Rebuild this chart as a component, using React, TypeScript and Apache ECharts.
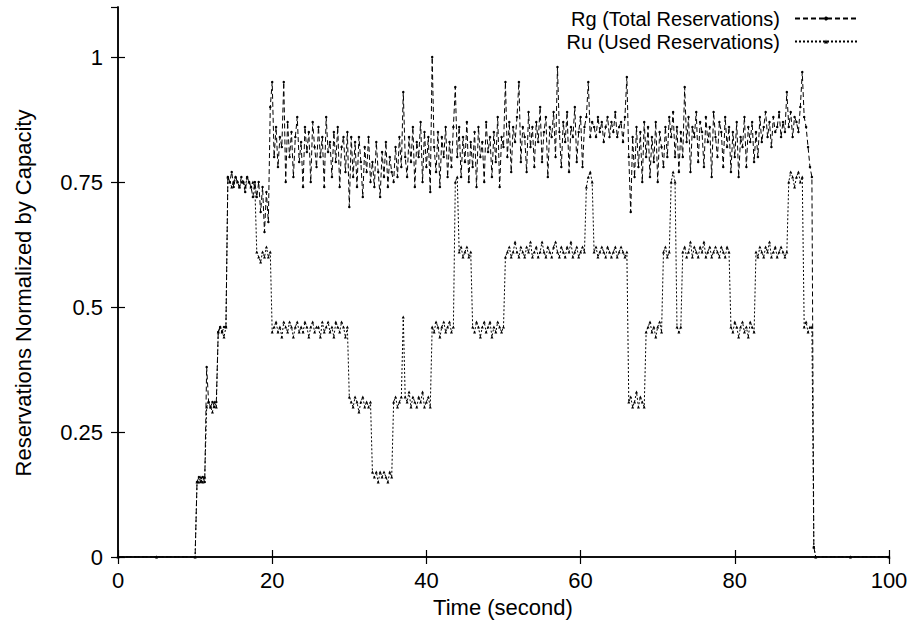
import React, { useEffect, useRef } from "react";
import * as echarts from "echarts";

// Sampling grid of the measurement (seconds)
const TIME_START = 10.0;
const TIME_STEP = 0.25;

// Idle periods before and after the run: [time, value]
const idleBefore: number[][] = [[0, 0], [5, 0]];
const idleAfter: number[][] = [[95, 0], [100, 0]];

// Rg (Total Reservations), normalized by capacity, from t = 10.0 every 0.25 s
const rgValues: number[] = [
  0.00,
  0.15, 0.16, 0.15, 0.16, 0.15,
  0.38, 0.31, 0.30, 0.31, 0.30, 0.31,
  0.45, 0.46, 0.45, 0.46, 0.46,
  0.76, 0.75, 0.77, 0.74, 0.76, 0.75, 0.74, 0.76, 0.75, 0.73, 0.76, 0.75, 0.74, 0.72, 0.75,
  0.72, 0.75, 0.69, 0.74, 0.65, 0.73, 0.67, 0.90,
  0.95, 0.80, 0.86, 0.78, 0.84, 0.82, 0.95, 0.75, 0.87, 0.80,
  0.85, 0.76, 0.84, 0.88, 0.79, 0.83, 0.74, 0.86, 0.81, 0.85,
  0.75, 0.87, 0.82, 0.78, 0.86, 0.80, 0.84, 0.74, 0.88, 0.81,
  0.83, 0.76, 0.85, 0.79, 0.86, 0.74, 0.82, 0.84, 0.77, 0.85,
  0.70, 0.84, 0.76, 0.83, 0.74, 0.84, 0.79, 0.72, 0.82, 0.77, 0.84, 0.75,
  0.79, 0.74, 0.83, 0.77, 0.72, 0.81, 0.76, 0.83, 0.74, 0.80, 0.77,
  0.75, 0.82, 0.76, 0.84, 0.78,
  0.93,
  0.80,
  0.76, 0.84, 0.79, 0.86, 0.74, 0.83, 0.80, 0.87, 0.75, 0.85, 0.78, 0.84, 0.73,
  1.00, 0.82, 0.77, 0.85, 0.74, 0.84, 0.80, 0.86, 0.76, 0.83, 0.78, 0.86,
  0.94, 0.80,
  0.86, 0.76, 0.84, 0.79, 0.87, 0.75, 0.83,
  0.78, 0.85, 0.74, 0.86, 0.80, 0.83, 0.75, 0.87, 0.81, 0.84, 0.76, 0.85, 0.79, 0.88, 0.74, 0.84, 0.82,
  0.95, 0.80, 0.87, 0.77, 0.86, 0.83, 0.88, 0.95, 0.79, 0.86,
  0.84, 0.77, 0.89, 0.82, 0.86, 0.78, 0.87, 0.83, 0.90, 0.79,
  0.85, 0.88, 0.76, 0.86, 0.84, 0.89, 0.80, 0.98, 0.85, 0.78,
  0.87, 0.83, 0.89, 0.77, 0.86, 0.84, 0.90, 0.79, 0.85, 0.88,
  0.78, 0.86,
  0.88, 0.95, 0.84, 0.87,
  0.86, 0.84, 0.88, 0.85, 0.87, 0.83, 0.86, 0.88, 0.84, 0.87, 0.85, 0.89, 0.84, 0.86, 0.87, 0.83, 0.88, 0.96,
  0.80, 0.69, 0.84, 0.76, 0.86, 0.78, 0.85, 0.75, 0.87,
  0.80, 0.86, 0.76, 0.84, 0.79, 0.87, 0.75, 0.85, 0.82,
  0.78, 0.86, 0.80, 0.88,
  0.84, 0.89, 0.80,
  0.86, 0.77, 0.85,
  0.80, 0.94, 0.83, 0.88, 0.77, 0.86, 0.84, 0.89, 0.79, 0.87,
  0.85, 0.78, 0.88, 0.83, 0.86, 0.76, 0.89, 0.84, 0.80, 0.87,
  0.85, 0.78, 0.88, 0.82, 0.86,
  0.77, 0.85, 0.80, 0.87, 0.76, 0.84, 0.82, 0.88, 0.78, 0.86, 0.83, 0.87, 0.79,
  0.85, 0.80, 0.88, 0.83, 0.86, 0.89, 0.84, 0.87, 0.82, 0.88, 0.85, 0.86, 0.89, 0.84, 0.87, 0.85, 0.93,
  0.86, 0.89, 0.84, 0.88, 0.87, 0.85, 0.90, 0.97,
  0.88, 0.86, 0.82, 0.78, 0.76,
  0.02,
  0.00,
];

// Ru (Used Reservations), normalized by capacity, same sampling grid
const ruValues: number[] = [
  0.00,
  0.15, 0.15, 0.16, 0.15, 0.16,
  0.30, 0.31, 0.30, 0.29, 0.31, 0.30,
  0.45, 0.46, 0.45, 0.44, 0.46,
  0.76, 0.75, 0.74, 0.75, 0.76, 0.75, 0.74, 0.75, 0.75, 0.74, 0.76, 0.75, 0.74, 0.75, 0.74,
  0.61, 0.60, 0.59, 0.61, 0.60, 0.62, 0.60, 0.61,
  0.45, 0.46, 0.47, 0.45, 0.46, 0.44, 0.47, 0.46, 0.45, 0.47,
  0.46, 0.44, 0.46, 0.47, 0.45, 0.46, 0.45, 0.47, 0.46, 0.44,
  0.46, 0.47, 0.45, 0.46, 0.46, 0.44, 0.47, 0.45, 0.46, 0.47,
  0.45, 0.46, 0.44, 0.47, 0.46, 0.45, 0.47, 0.46, 0.44, 0.46,
  0.32, 0.31, 0.30, 0.32, 0.31, 0.29, 0.31, 0.32, 0.30, 0.31, 0.30, 0.31,
  0.17, 0.16, 0.17, 0.15, 0.17, 0.16, 0.17, 0.16, 0.15, 0.17, 0.16,
  0.31, 0.32, 0.30, 0.31, 0.32,
  0.48,
  0.32,
  0.31, 0.33, 0.30, 0.32, 0.31, 0.30, 0.32, 0.31, 0.33, 0.30, 0.31, 0.32, 0.30,
  0.46, 0.45, 0.47, 0.46, 0.44, 0.46, 0.47, 0.45, 0.46, 0.47, 0.45, 0.46,
  0.75, 0.76,
  0.61, 0.62, 0.60, 0.61, 0.62, 0.60, 0.61,
  0.46, 0.45, 0.47, 0.46, 0.44, 0.46, 0.47, 0.45, 0.46, 0.47, 0.44, 0.46, 0.45, 0.47, 0.46, 0.45, 0.46,
  0.60, 0.61, 0.62, 0.60, 0.61, 0.63, 0.61, 0.60, 0.62, 0.61,
  0.60, 0.62, 0.61, 0.63, 0.60, 0.61, 0.62, 0.60, 0.61, 0.63,
  0.61, 0.60, 0.62, 0.61, 0.60, 0.62, 0.63, 0.61, 0.60, 0.62,
  0.61, 0.60, 0.62, 0.61, 0.63, 0.60, 0.61, 0.62, 0.60, 0.61,
  0.62, 0.61,
  0.74, 0.76, 0.77, 0.75,
  0.61, 0.62, 0.60, 0.61, 0.62, 0.61, 0.60, 0.62, 0.61, 0.60, 0.61, 0.62, 0.60, 0.61, 0.62, 0.61, 0.60, 0.61,
  0.31, 0.32, 0.30, 0.31, 0.33, 0.30, 0.32, 0.31, 0.30,
  0.45, 0.46, 0.47, 0.45, 0.46, 0.44, 0.46, 0.47, 0.45,
  0.61, 0.62, 0.60, 0.61,
  0.75, 0.77, 0.75,
  0.46, 0.45, 0.46,
  0.61, 0.62, 0.60, 0.61, 0.63, 0.60, 0.62, 0.61, 0.60, 0.62,
  0.61, 0.63, 0.60, 0.61, 0.62, 0.60, 0.61, 0.62, 0.61, 0.60,
  0.62, 0.61, 0.60, 0.62, 0.61,
  0.46, 0.45, 0.47, 0.46, 0.44, 0.46, 0.47, 0.45, 0.46, 0.44, 0.47, 0.46, 0.45,
  0.61, 0.60, 0.62, 0.61, 0.60, 0.62, 0.61, 0.63, 0.60, 0.61, 0.62, 0.60, 0.61, 0.62, 0.61, 0.60, 0.61,
  0.75, 0.77, 0.76, 0.74, 0.76, 0.77, 0.75, 0.76,
  0.46, 0.47, 0.45, 0.46, 0.46,
  0.02,
  0.00,
];

const xTicks = [0, 20, 40, 60, 80, 100];
const yTickLabels: Record<string, string> = { "0": "0", "0.25": "0.25", "0.5": "0.5", "0.75": "0.75", "1": "1" };

const SERIES_NAMES = ["Rg (Total Reservations)", "Ru (Used Reservations)"];
const X_TITLE = "Time (second)";
const Y_TITLE = "Reservations Normalized by Capacity";

const FONT = "'Liberation Sans', Arial, Helvetica, sans-serif";
const FS = 22;
const LEGEND_FS = 20;

function toSeries(values: number[]): number[][] {
  const pts: number[][] = idleBefore.map((p) => [p[0], p[1]]);
  values.forEach((v, i) => pts.push([TIME_START + i * TIME_STEP, v]));
  idleAfter.forEach((p) => pts.push([p[0], p[1]]));
  return pts;
}

export default function App() {
  const ref = useRef<HTMLDivElement>(null);

  useEffect(() => {
    if (!ref.current) return;
    const chart = echarts.init(ref.current, undefined, { renderer: "svg" });

    const axisLine = { show: true, lineStyle: { color: "#000", width: 1.5 } };
    const axisTick = { show: true, inside: true, length: 7, lineStyle: { color: "#000", width: 1.2 } };

    chart.setOption({
      animation: false,
      backgroundColor: "#fff",
      textStyle: { fontFamily: FONT },
      grid: { left: 118, right: 22, top: 7, bottom: 70, containLabel: false },
      legend: {
        data: SERIES_NAMES,
        orient: "vertical",
        right: 48,
        top: 2,
        padding: 5,
        align: "right",
        itemWidth: 62,
        itemHeight: 5,
        itemGap: 0,
        selectedMode: false,
        textStyle: {
          fontSize: LEGEND_FS,
          lineHeight: 23,
          color: "#000",
          fontFamily: FONT,
          padding: [0, 10, 0, 0],
        },
      },
      xAxis: [
        {
          type: "value",
          min: 0,
          max: 100,
          interval: 20,
          position: "bottom",
          axisLine,
          axisTick,
          splitLine: { show: false },
          axisLabel: {
            color: "#000",
            fontSize: FS,
            fontFamily: FONT,
            margin: 12,
            formatter: (v: number) => (xTicks.includes(v) ? String(v) : ""),
          },
        },
        {
          type: "value",
          min: 0,
          max: 100,
          interval: 20,
          position: "top",
          axisLine,
          axisTick,
          splitLine: { show: false },
          axisLabel: { show: false },
        },
      ],
      yAxis: [
        {
          type: "value",
          min: 0,
          max: 1.1,
          interval: 0.25,
          position: "left",
          axisLine,
          axisTick,
          splitLine: { show: false },
          axisLabel: {
            color: "#000",
            fontSize: FS,
            fontFamily: FONT,
            margin: 15,
            showMaxLabel: false,
            formatter: (v: number) => yTickLabels[String(v)] ?? "",
          },
        },
        {
          type: "value",
          min: 0,
          max: 1.1,
          interval: 0.25,
          position: "right",
          axisLine,
          axisTick,
          splitLine: { show: false },
          axisLabel: { show: false },
        },
      ],
      graphic: [
        {
          type: "text",
          x: 503,
          y: 607,
          style: {
            text: X_TITLE,
            fontSize: FS,
            fontFamily: FONT,
            fill: "#000",
            textAlign: "center",
            textVerticalAlign: "middle",
          },
        },
        {
          type: "text",
          x: 23,
          y: 293,
          rotation: Math.PI / 2,
          style: {
            text: Y_TITLE,
            fontSize: FS,
            fontFamily: FONT,
            fill: "#000",
            textAlign: "center",
            textVerticalAlign: "middle",
          },
        },
      ],
      series: [
        {
          name: SERIES_NAMES[0],
          type: "line",
          data: toSeries(rgValues),
          symbol: "circle",
          symbolSize: 2.5,
          showSymbol: true,
          silent: true,
          lineStyle: { color: "#000", width: 1, type: [5, 3] },
          itemStyle: { color: "#000" },
          emphasis: { disabled: true },
          z: 2,
        },
        {
          name: SERIES_NAMES[1],
          type: "line",
          data: toSeries(ruValues),
          symbol: "triangle",
          symbolSize: 3,
          showSymbol: true,
          silent: true,
          lineStyle: { color: "#000", width: 1, type: [2, 2] },
          itemStyle: { color: "#000" },
          emphasis: { disabled: true },
          z: 3,
        },
      ],
    });

    return () => chart.dispose();
  }, []);

  return (
    <div
      ref={ref}
      style={{ position: "fixed", left: 0, top: 0, width: 911, height: 627, background: "#fff" }}
    />
  );
}
